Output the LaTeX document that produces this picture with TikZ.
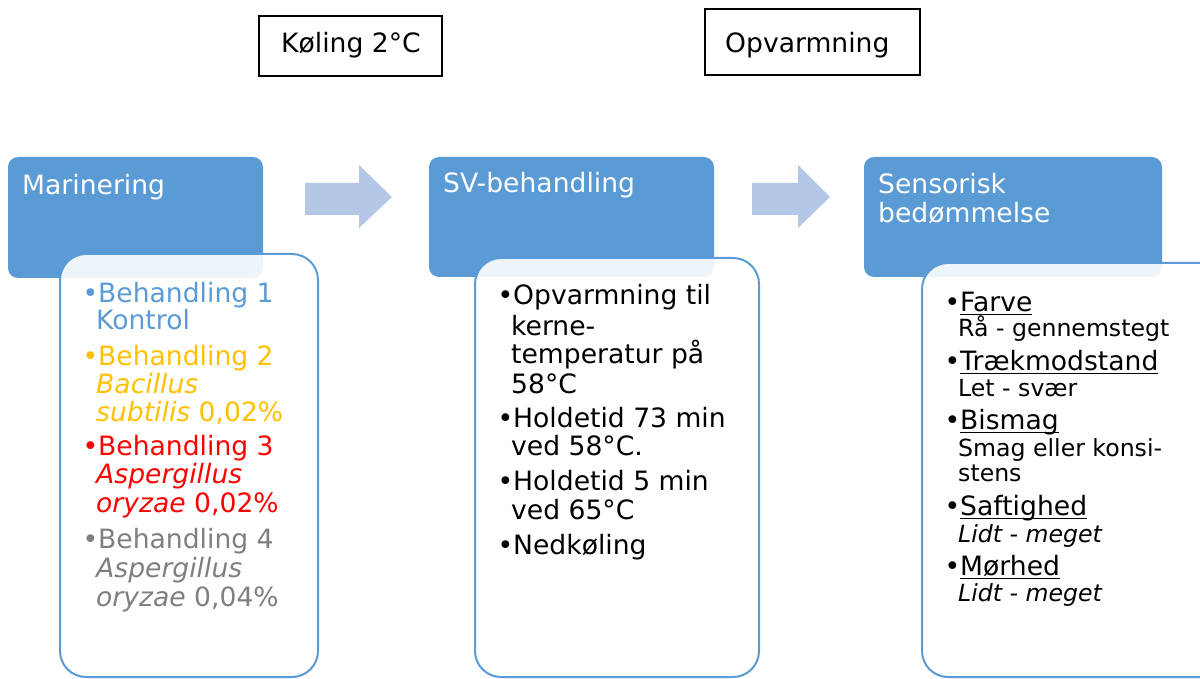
\documentclass[tikz,border=0pt]{standalone}
\usepackage{fontspec}
\setmainfont{DejaVu Sans}
\newcommand\bigf{\fontsize{26.6}{29}\selectfont}
\newcommand\subf{\fontsize{23.6}{26}\selectfont}
\newcommand\bul{\llap{•}}
\newcommand\undl[1]{\setbox0\hbox{#1}\rlap{\rule[-4pt]{\wd0}{1.5pt}}\box0}
\definecolor{hdrblue}{HTML}{5B9BD5}
\definecolor{arrblue}{HTML}{B4C7E7}
\definecolor{tblue}{HTML}{5B9BD5}
\definecolor{tyellow}{HTML}{FFC000}
\definecolor{tred}{HTML}{FF0000}
\definecolor{tgray}{HTML}{7F7F7F}
\tikzset{
  hdr/.style={fill=hdrblue, rounded corners=10pt},
  card/.style={draw=hdrblue, line width=2pt, fill=white, fill opacity=0.9, rounded corners=26pt},
  topbox/.style={draw=black, line width=1.8pt, fill=white},
  blockarrow/.style={fill=arrblue},
  ln/.style={anchor=base west, inner sep=0pt, font=\bigf},
  sl/.style={anchor=base west, inner sep=0pt, font=\subf},
  hl/.style={anchor=base west, inner sep=0pt, font=\bigf, text=white}
}
\begin{document}
\begin{tikzpicture}[x=1pt,y=-1pt]
\useasboundingbox (0,0) rectangle (1200,679);
\clip (0,0) rectangle (1200,679);
% top boxes
\draw[topbox] (259,16) rectangle (442,76);
\node[ln] (kol) at (281,53) {Køling 2°C};
\draw[topbox] (705,9) rectangle (920,75);
\node[ln] (opv) at (725,53) {Opvarmning};
% headers
\fill[hdr] (8,157) rectangle (263,278);
\fill[hdr] (429,157) rectangle (714,277);
\fill[hdr] (864,157) rectangle (1162,277);
\node[hl] (h1) at (22,195) {Marinering};
\node[hl] (h2) at (443,193) {SV-behandling};
\node[hl] (h3a) at (878,194) {Sensorisk};
\node[hl] (h3b) at (878,223) {bedømmelse};
% block arrows
\fill[blockarrow] (305,183) -- (359,183) -- (359,165) -- (392,197) -- (359,228) -- (359,215) -- (305,215) -- cycle;
\fill[blockarrow] (752,183) -- (798,183) -- (798,165) -- (830,197) -- (798,228) -- (798,215) -- (752,215) -- cycle;
% cards
\draw[card] (60,254) rectangle (318,677);
\draw[card] (475,258) rectangle (759,677);
\draw[card] (922,263) rectangle (1230,677);
% card 1
\begin{scope}[text opacity=1]
\node[ln, text=tblue] (a1) at (98,302) {\bul Behandling 1};
\node[ln, text=tblue] (a2) at (96,330) {Kontrol};
\node[ln, text=tyellow] (b1) at (98,365) {\bul Behandling 2};
\node[ln, text=tyellow] (b2) at (96,393) {\itshape Bacillus};
\node[ln, text=tyellow] (b3) at (96,421) {\textit{subtilis} 0,02\%};
\node[ln, text=tred] (c1) at (98,455) {\bul Behandling 3};
\node[ln, text=tred] (c2) at (96,483) {\itshape Aspergillus};
\node[ln, text=tred] (c3) at (96,512) {\textit{oryzae} 0,02\%};
\node[ln, text=tgray] (d1) at (98,548) {\bul Behandling 4};
\node[ln, text=tgray] (d2) at (96,577) {\itshape Aspergillus};
\node[ln, text=tgray] (d3) at (96,606) {\textit{oryzae} 0,04\%};
% card 2
\node[ln] (e1) at (513,305) {\bul Opvarmning til};
\node[ln] (e2) at (511,335) {kerne-};
\node[ln] (e3) at (511,363) {temperatur på};
\node[ln] (e4) at (511,393) {58°C};
\node[ln] (f1) at (513,427) {\bul Holdetid 73 min};
\node[ln] (f2) at (511,455) {ved 58°C.};
\node[ln] (g1) at (513,490) {\bul Holdetid 5 min};
\node[ln] (g2) at (511,519) {ved 65°C};
\node[ln] (k1) at (513,554) {\bul Nedkøling};
% card 3
\node[ln] (s1) at (960,311) {\bul\undl{Farve}};
\node[sl] (s1b) at (958,336) {Rå - gennemstegt};
\node[ln] (s2) at (960,370) {\bul\undl{Trækmodstand}};
\node[sl] (s2b) at (958,396) {Let - svær};
\node[ln] (s3) at (960,429) {\bul\undl{Bismag}};
\node[sl] (s3b) at (958,456) {Smag eller konsi-};
\node[sl] (s3c) at (958,481) {stens};
\node[ln] (s4) at (960,515) {\bul\undl{Saftighed}};
\node[sl] (s4b) at (958,542) {\itshape Lidt - meget};
\node[ln] (s5) at (960,575) {\bul\undl{Mørhed}};
\node[sl] (s5b) at (958,601) {\itshape Lidt - meget};
\end{scope}
\end{tikzpicture}
\end{document}
